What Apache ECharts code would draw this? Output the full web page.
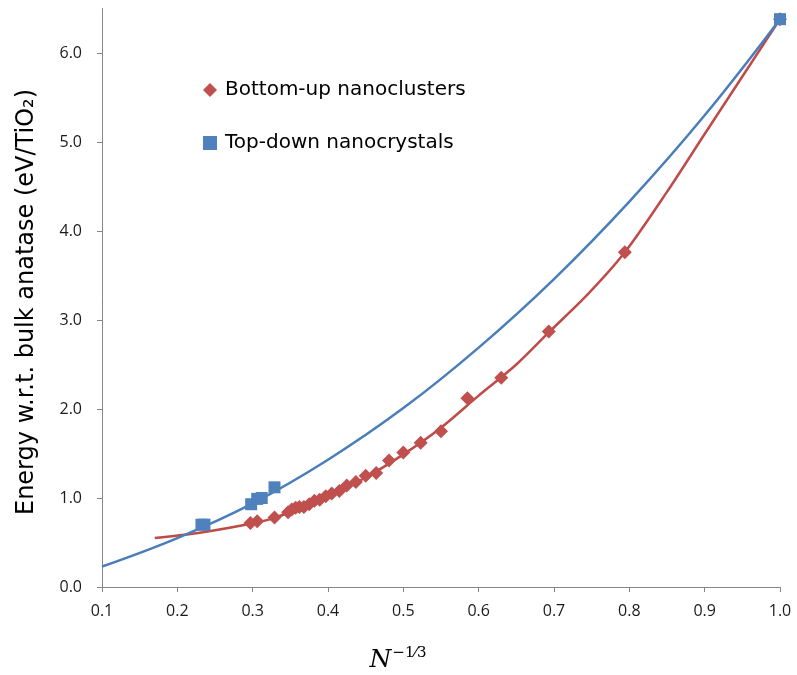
<!DOCTYPE html>
<html><head><meta charset="utf-8">
<script src="https://cdn.jsdelivr.net/npm/echarts@6/dist/echarts.min.js"></script>
<style>html,body{margin:0;padding:0;background:#fff}#c{width:797px;height:675px}</style>
</head><body><div id="c"></div>
<script>
// Bottom-up nanoclusters (markers)
const redX = [1.000,0.794,0.693,0.630,0.585,0.550,0.523,0.500,0.481,0.464,0.450,0.437,0.425,0.415,0.405,0.397,0.389,0.382,0.375,0.368,0.362,0.357,0.352,0.347,0.329,0.306,0.297];
const redY = [6.38,3.76,2.87,2.35,2.12,1.75,1.62,1.51,1.42,1.28,1.25,1.18,1.14,1.08,1.05,1.02,0.98,0.97,0.93,0.90,0.90,0.89,0.87,0.84,0.78,0.74,0.72];
// Top-down nanocrystals (markers)
const blueX = [0.232,0.236,0.298,0.306,0.312,0.329,1.000];
const blueY = [0.70,0.70,0.93,0.99,1.00,1.12,6.38];
// Fitted curves
const redCurveX = [0.17,0.23,0.297,0.33,0.36,0.40,0.45,0.50,0.55,0.60,0.65,0.693,0.745,0.794,0.85,0.90,1.00];
const redCurveY = [0.55,0.61,0.71,0.78,0.88,1.02,1.23,1.49,1.79,2.15,2.50,2.86,3.29,3.76,4.44,5.09,6.38];
const blueCurveX = [0.10,0.20,0.30,0.40,0.50,0.60,0.70,0.80,0.90,1.00];
const blueCurveY = [0.23,0.55,0.94,1.43,2.01,2.69,3.46,4.33,5.30,6.38];

const zip = (a,b)=>a.map((v,i)=>[v,b[i]]);
const RED='#c0504d', BLUE='#4f81bd';
const chart = echarts.init(document.getElementById('c'));
const FONT = 'Open Sans';
chart.setOption({
  animation:false,
  grid:{left:102,right:17,top:8.5,bottom:88},
  xAxis:{type:'value',min:0.1,max:1.0,interval:0.1,
    axisLine:{lineStyle:{color:'#868686',width:1}},
    axisTick:{show:true,length:5,lineStyle:{color:'#868686'}},
    splitLine:{show:false},
    axisLabel:{margin:16,fontSize:16,color:'#1a1a1a',fontFamily:FONT,formatter:v=>v.toFixed(1)}},
  yAxis:{type:'value',min:0,max:6.5,interval:1,
    axisLine:{show:true,lineStyle:{color:'#868686',width:1}},
    axisTick:{show:true,length:5,lineStyle:{color:'#868686'}},
    splitLine:{show:false},
    axisLabel:{margin:20,fontSize:16,color:'#1a1a1a',fontFamily:FONT,showMaxLabel:false,formatter:v=>v.toFixed(1)}},
  legend:{orient:'vertical',left:198,top:75,itemGap:33,itemWidth:14,itemHeight:14,
    textStyle:{fontSize:20,lineHeight:20,color:'#000',fontFamily:'DejaVu Sans',padding:[0,0,0,3]},
    data:[{name:'Bottom-up nanoclusters',icon:'diamond'},{name:'Top-down nanocrystals',icon:'rect'}]},
  graphic:[
    {type:'text',x:27,y:302,rotation:Math.PI/2,
      style:{text:'Energy w.r.t. bulk anatase (eV/TiO₂)',font:'24px "DejaVu Sans"',fill:'#000',align:'center',verticalAlign:'middle'}},
    {type:'text',x:398,y:660,
      style:{text:'{n|N}{s|−1⁄3}',align:'center',verticalAlign:'middle',
        rich:{n:{fontFamily:'DejaVu Serif',fontStyle:'italic',fontSize:25,color:'#000'},
              s:{fontFamily:'DejaVu Serif',fontSize:15,color:'#000',padding:[0,0,14,1]}}}}
  ],
  series:[
    {name:'redCurve',type:'line',data:zip(redCurveX,redCurveY),smooth:0.3,symbol:'none',
      lineStyle:{color:'#be4b48',width:2.5},silent:true,z:2},
    {name:'blueCurve',type:'line',data:zip(blueCurveX,blueCurveY),smooth:0.4,symbol:'none',
      lineStyle:{color:'#4a7ebb',width:2.5},silent:true,z:2},
    {name:'Bottom-up nanoclusters',type:'scatter',data:zip(redX,redY),symbol:'diamond',symbolSize:14,
      itemStyle:{color:RED,opacity:1},z:3},
    {name:'Top-down nanocrystals',type:'scatter',data:zip(blueX,blueY),symbol:'rect',symbolSize:12,
      itemStyle:{color:BLUE,opacity:1},z:4}
  ]
});
</script></body></html>
